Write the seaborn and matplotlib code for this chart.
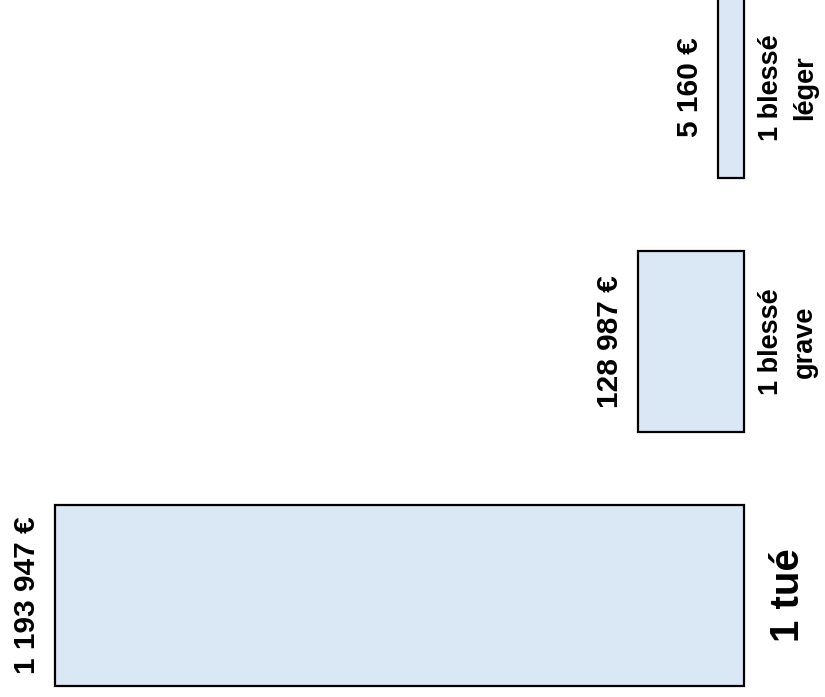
import numpy as np
import pandas as pd
import seaborn as sns
import matplotlib.pyplot as plt

# categories, top to bottom as they appear
categories = ["1 blessé\nléger", "1 blessé\ngrave", "1 tué"]
cost_labels = ["5 160 €", "128 987 €", "1 193 947 €"]
# pictorial bar lengths as drawn in the picture (not proportional to cost)
bar_lengths = [26, 106, 689]
label_sizes = [19.5, 19.5, 29]

sns.set_style("white")
plt.rcParams['font.family'] = ['Liberation Sans', 'DejaVu Sans']

df = pd.DataFrame({'categorie': categories, 'longueur': bar_lengths})

fig = plt.figure(figsize=(8.25, 6.97), dpi=100)
ax = fig.add_axes([0, 0, 1, 1])

sns.barplot(data=df, x='longueur', y='categorie', orient='h', order=categories,
            width=0.709, color='#dae7f4', saturation=1,
            edgecolor='black', linewidth=1.6, ax=ax)

# bars grow leftwards from a common baseline
ax.set_xlim(744, -81)
ax.set_ylim(2.3996, -0.3445)
ax.axis('off')

for i, (length, cost, cat, fs) in enumerate(zip(bar_lengths, cost_labels, categories, label_sizes)):
    ax.text(length + 28, i, cost, rotation=90, ha='center', va='center',
            fontsize=21.5, fontweight='bold', color='black')
    ax.text(-44, i, cat, rotation=90, ha='center', va='center',
            fontsize=fs, fontweight='bold', linespacing=1.4,
            multialignment='center', color='black')

plt.savefig('out.png', dpi=100)
plt.close()
